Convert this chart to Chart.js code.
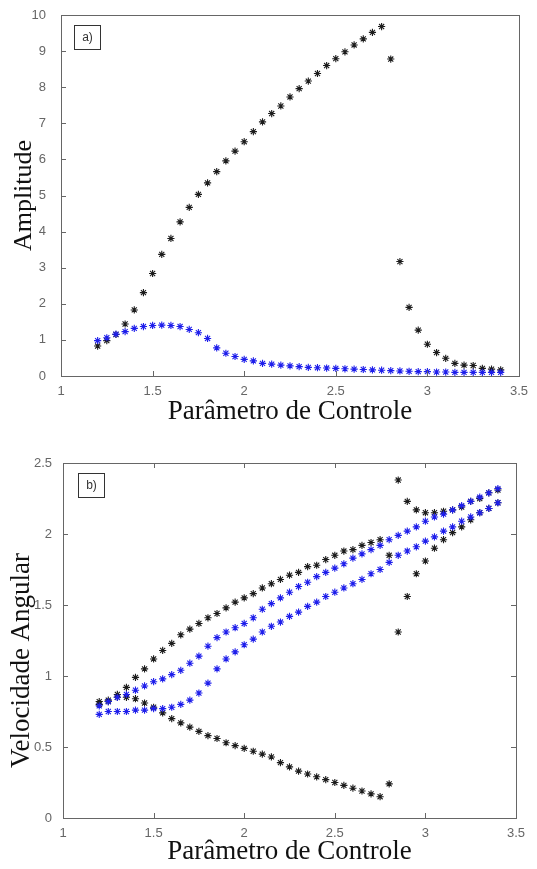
<!DOCTYPE html>
<html lang="pt">
<head>
<meta charset="utf-8">
<title>Amplitude e Velocidade Angular</title>
<script src="https://cdn.jsdelivr.net/npm/chart.js@4.4.1/dist/chart.umd.min.js"></script>
<style>
  html, body { margin: 0; padding: 0; background: #fff; }
  #wrap { position: relative; width: 537px; height: 869px; }
  canvas { position: absolute; left: 0; }
  #chartA { top: 0; }
  #chartB { top: 430px; }
</style>
</head>
<body>
<div id="wrap">
  <canvas id="chartA" width="537" height="430"></canvas>
  <canvas id="chartB" width="537" height="439"></canvas>
</div>
<script>
'use strict';

// parâmetro de controle (varredura completa)
const paramFull = [1.2, 1.25, 1.3, 1.35, 1.4, 1.45, 1.5, 1.55, 1.6, 1.65,
    1.7, 1.75, 1.8, 1.85, 1.9, 1.95, 2.0, 2.05, 2.1, 2.15,
    2.2, 2.25, 2.3, 2.35, 2.4, 2.45, 2.5, 2.55, 2.6, 2.65,
    2.7, 2.75, 2.8, 2.85, 2.9, 2.95, 3.0, 3.05, 3.1, 3.15,
    3.2, 3.25, 3.3, 3.35, 3.4];

// trecho até 2.8 e trecho a partir de 2.85
const paramLow = [1.2, 1.25, 1.3, 1.35, 1.4, 1.45, 1.5, 1.55, 1.6, 1.65,
    1.7, 1.75, 1.8, 1.85, 1.9, 1.95, 2.0, 2.05, 2.1, 2.15,
    2.2, 2.25, 2.3, 2.35, 2.4, 2.45, 2.5, 2.55, 2.6, 2.65,
    2.7, 2.75, 2.8];
const paramHigh = [2.85, 2.9, 2.95, 3.0, 3.05, 3.1, 3.15, 3.2, 3.25, 3.3, 3.35, 3.4];

// a) amplitude
const amplitudeBlack = [0.83, 0.98, 1.15, 1.44, 1.83, 2.31, 2.84, 3.37, 3.81, 4.27,
    4.67, 5.03, 5.35, 5.66, 5.96, 6.23, 6.49, 6.77, 7.04, 7.27,
    7.48, 7.73, 7.96, 8.17, 8.38, 8.60, 8.79, 8.98, 9.17, 9.34,
    9.52, 9.68, 8.78, 3.17, 1.90, 1.27, 0.88, 0.65, 0.49, 0.35,
    0.30, 0.29, 0.21, 0.19, 0.17];
const amplitudeBlue = [0.98, 1.06, 1.16, 1.23, 1.32, 1.37, 1.40, 1.41, 1.40, 1.37,
    1.29, 1.20, 1.04, 0.78, 0.63, 0.54, 0.46, 0.42, 0.35, 0.33,
    0.30, 0.28, 0.26, 0.24, 0.23, 0.22, 0.21, 0.20, 0.19, 0.18,
    0.17, 0.16, 0.15, 0.14, 0.13, 0.12, 0.12, 0.11, 0.11, 0.10,
    0.10, 0.10, 0.10, 0.10, 0.10];

// b) velocidade angular
const velBlackUpper = [0.82, 0.83, 0.87, 0.92, 0.99, 1.05, 1.12, 1.18, 1.23, 1.29,
    1.33, 1.37, 1.41, 1.44, 1.48, 1.52, 1.55, 1.58, 1.62, 1.65,
    1.68, 1.71, 1.73, 1.77, 1.78, 1.82, 1.85, 1.88, 1.89, 1.92,
    1.94, 1.96, 1.85];
const velBlackLower = [0.80, 0.82, 0.85, 0.85, 0.84, 0.81, 0.78, 0.74, 0.70, 0.67,
    0.64, 0.61, 0.58, 0.56, 0.53, 0.51, 0.49, 0.47, 0.45, 0.43,
    0.39, 0.36, 0.33, 0.31, 0.29, 0.27, 0.25, 0.23, 0.21, 0.19,
    0.17, 0.15, 0.24];
const velBlackHighUpper = [2.38, 2.23, 2.17, 2.15, 2.15, 2.16, 2.17, 2.19, 2.23, 2.25, 2.29, 2.31];
const velBlackHighLower = [1.31, 1.56, 1.72, 1.81, 1.90, 1.96, 2.01, 2.05, 2.10, 2.15, 2.18, 2.22];
const velBlueUpper = [0.79, 0.82, 0.85, 0.87, 0.90, 0.93, 0.96, 0.98, 1.01, 1.04,
    1.09, 1.14, 1.21, 1.27, 1.31, 1.34, 1.37, 1.41, 1.47, 1.51,
    1.55, 1.59, 1.63, 1.66, 1.70, 1.73, 1.76, 1.79, 1.83, 1.86,
    1.89, 1.92, 1.96, 1.99, 2.02, 2.05, 2.09, 2.12, 2.14, 2.17,
    2.20, 2.23, 2.26, 2.29, 2.32];
const velBlueLower = [0.73, 0.75, 0.75, 0.75, 0.76, 0.76, 0.77, 0.77, 0.78, 0.80,
    0.83, 0.88, 0.95, 1.05, 1.12, 1.17, 1.22, 1.26, 1.31, 1.35,
    1.38, 1.42, 1.45, 1.49, 1.52, 1.56, 1.59, 1.62, 1.65, 1.68,
    1.72, 1.75, 1.80, 1.85, 1.88, 1.91, 1.95, 1.98, 2.02, 2.05,
    2.09, 2.12, 2.15, 2.18, 2.22];

const xTicks = [1, 1.5, 2, 2.5, 3, 3.5];

const BLACK = '#1c1c1c';
const BLUE = 'rgb(30, 30, 235)';
const AXIS = '#666';

function pairs(xs, ys) {
    return xs.map(function(x, i) {
        return { x: x, y: ys[i] };
    });
}

function starSet(label, xs, ys, color) {
    return {
        label: label,
        data: pairs(xs, ys),
        showLine: false,
        pointStyle: 'star',
        pointRadius: 3.6,
        pointHoverRadius: 3.6,
        borderColor: color,
        backgroundColor: color,
        borderWidth: 1.1
    };
}

// rótulos dos ticks sem zeros à direita (1, 1.5, 2 ...)
function plainLabel(value) {
    return String(Number(value.toFixed(2)));
}

// caixa dos eixos, marcas internas, título vertical e etiqueta do painel
const framePlugin = {
    id: 'frame',
    afterDraw(chart, args, opts) {
        const ctx = chart.ctx;
        const area = chart.chartArea;
        const xs = chart.scales.x;
        const ys = chart.scales.y;
        const len = opts.tickLength;
        ctx.save();
        ctx.strokeStyle = AXIS;
        ctx.lineWidth = 1;
        ctx.strokeRect(area.left + 0.5, area.top + 0.5, area.right - area.left, area.bottom - area.top);

        ctx.beginPath();
        xs.ticks.forEach(function(t) {
            const px = Math.round(xs.getPixelForValue(t.value)) + 0.5;
            ctx.moveTo(px, area.bottom);
            ctx.lineTo(px, area.bottom - len);
            if (opts.mirror) {
                ctx.moveTo(px, area.top);
                ctx.lineTo(px, area.top + len);
            }
        });
        ys.ticks.forEach(function(t) {
            const py = Math.round(ys.getPixelForValue(t.value)) + 0.5;
            ctx.moveTo(area.left, py);
            ctx.lineTo(area.left + len, py);
            if (opts.mirror) {
                ctx.moveTo(area.right, py);
                ctx.lineTo(area.right - len, py);
            }
        });
        ctx.stroke();

        // título do eixo y (girado)
        const yt = opts.yTitle;
        ctx.save();
        ctx.translate(yt.x, (area.top + area.bottom) / 2 + yt.shift);
        ctx.rotate(-Math.PI / 2);
        ctx.fillStyle = '#111';
        ctx.font = yt.size + 'px "Liberation Serif", serif';
        ctx.textAlign = 'center';
        ctx.textBaseline = 'middle';
        ctx.fillText(yt.text, 0, 0);
        ctx.restore();

        // etiqueta a) / b)
        const bx = area.left + opts.tagOffset.x;
        const by = area.top + opts.tagOffset.y;
        ctx.strokeStyle = '#333';
        ctx.strokeRect(bx + 0.5, by + 0.5, opts.tagSize.w, opts.tagSize.h);
        ctx.fillStyle = '#333';
        ctx.font = '12px "Liberation Sans", sans-serif';
        ctx.textAlign = 'center';
        ctx.textBaseline = 'middle';
        ctx.fillText(opts.tag, bx + opts.tagSize.w / 2 + 0.5, by + opts.tagSize.h / 2 + 1);
        ctx.restore();
    }
};

function buildOptions(cfg) {
    return {
        responsive: false,
        animation: false,
        devicePixelRatio: 1,
        layout: { padding: cfg.padding },
        plugins: {
            legend: { display: false },
            tooltip: { enabled: false },
            frame: {
                tickLength: 5,
                mirror: cfg.mirror,
                tag: cfg.tag,
                tagOffset: cfg.tagOffset,
                tagSize: { w: 26, h: 24 },
                yTitle: cfg.yTitle
            }
        },
        scales: {
            x: {
                type: 'linear',
                min: 1,
                max: 3.5,
                afterBuildTicks: function(scale) {
                    scale.ticks = xTicks.map(function(v) { return { value: v }; });
                },
                afterFit: function(scale) { scale.height = cfg.xHeight; },
                grid: { display: false },
                border: { display: false },
                ticks: {
                    color: AXIS,
                    padding: 0,
                    callback: plainLabel,
                    font: { family: '"Liberation Sans", sans-serif', size: 13 }
                },
                title: {
                    display: true,
                    text: 'Parâmetro de Controle',
                    color: '#111',
                    padding: { top: 0, bottom: cfg.xTitlePad },
                    font: { family: '"Liberation Serif", serif', size: 27 }
                }
            },
            y: {
                min: cfg.yMin,
                max: cfg.yMax,
                afterBuildTicks: function(scale) {
                    scale.ticks = cfg.yTicks.map(function(v) { return { value: v }; });
                },
                afterFit: function(scale) { scale.width = cfg.yWidth; },
                grid: { display: false },
                border: { display: false },
                ticks: {
                    color: AXIS,
                    padding: cfg.yTickPad,
                    callback: plainLabel,
                    font: { family: '"Liberation Sans", sans-serif', size: 13 }
                }
            }
        }
    };
}

new Chart(document.getElementById('chartA'), {
    type: 'scatter',
    data: {
        datasets: [
            starSet('amplitude (azul)', paramFull, amplitudeBlue, BLUE),
            starSet('amplitude (preto)', paramFull, amplitudeBlack, BLACK)
        ]
    },
    options: buildOptions({
        padding: { top: 15, right: 18, left: 0, bottom: 0 },
        xHeight: 54,
        yWidth: 61,
        yMin: 0,
        yMax: 10,
        yTicks: [0, 1, 2, 3, 4, 5, 6, 7, 8, 9, 10],
        yTickPad: 7,
        yTitle: { text: 'Amplitude', size: 26, x: 24, shift: 0 },
        xTitlePad: 2,
        mirror: false,
        tag: 'a)',
        tagOffset: { x: 13, y: 10 }
    }),
    plugins: [framePlugin]
});

new Chart(document.getElementById('chartB'), {
    type: 'scatter',
    data: {
        datasets: [
            starSet('azul superior', paramFull, velBlueUpper, BLUE),
            starSet('azul inferior', paramFull, velBlueLower, BLUE),
            starSet('preto superior', paramLow, velBlackUpper, BLACK),
            starSet('preto inferior', paramLow, velBlackLower, BLACK),
            starSet('preto após 2.8 (sup.)', paramHigh, velBlackHighUpper, BLACK),
            starSet('preto após 2.8 (inf.)', paramHigh, velBlackHighLower, BLACK)
        ]
    },
    options: buildOptions({
        padding: { top: 33, right: 21, left: 0, bottom: 0 },
        xHeight: 51,
        yWidth: 63,
        yMin: 0,
        yMax: 2.5,
        yTicks: [0, 0.5, 1, 1.5, 2, 2.5],
        yTickPad: 3,
        yTitle: { text: 'Velocidade Angular', size: 27, x: 22, shift: 20 },
        xTitlePad: 1,
        mirror: true,
        tag: 'b)',
        tagOffset: { x: 15, y: 10 }
    }),
    plugins: [framePlugin]
});
</script>
</body>
</html>
